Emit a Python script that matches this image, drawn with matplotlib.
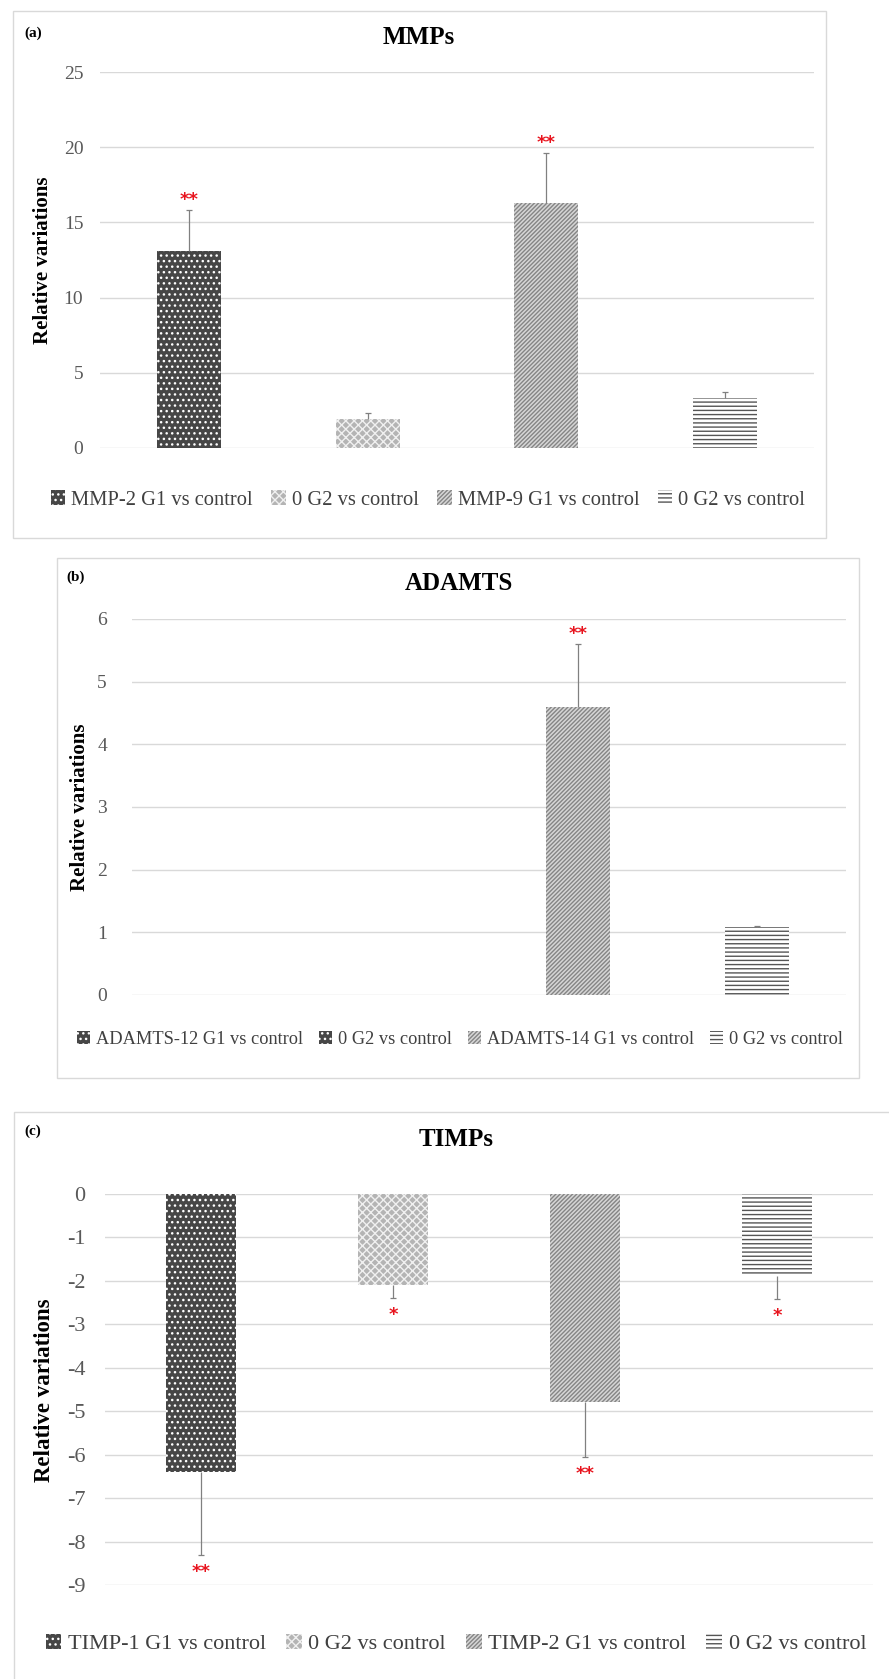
import matplotlib
matplotlib.use("Agg")
import matplotlib.pyplot as plt
from matplotlib.patches import Rectangle

plt.rcParams['font.family'] = ['Liberation Serif', 'DejaVu Serif']
plt.rcParams['hatch.linewidth'] = 1.0
plt.rcParams['axes.unicode_minus'] = False

W, H = 889, 1679

# data
mmp_labels = ['MMP-2 G1 vs control', '0 G2 vs control', 'MMP-9 G1 vs control', '0 G2 vs control']
mmp_values = [13.1, 1.95, 16.3, 3.3]
mmp_err = [2.7, 0.35, 3.3, 0.4]
mmp_stars = ['**', '', '**', '']

adamts_labels = ['ADAMTS-12 G1 vs control', '0 G2 vs control', 'ADAMTS-14 G1 vs control', '0 G2 vs control']
adamts_values = [0, 0, 4.6, 1.08]
adamts_err = [0, 0, 1.0, 0.02]
adamts_stars = ['', '', '**', '']

timp_labels = ['TIMP-1 G1 vs control', '0 G2 vs control', 'TIMP-2 G1 vs control', '0 G2 vs control']
timp_values = [-6.4, -2.09, -4.79, -1.88]
timp_err = [1.9, 0.3, 1.26, 0.54]
timp_stars = ['**', '*', '**', '*']

# (facecolor, hatch colour, hatch)
styles = [
    ('#464646', '#ffffff', '...'),
    ('#b4b4b4', '#f0f0f0', 'xxxx'),
    ('#d6d6d6', '#858585', '////////'),
    ('#ffffff', '#555555', '----'),
]
styles_b = [styles[0], styles[0], styles[2], styles[3]]

fig = plt.figure(figsize=(W / 100, H / 100), dpi=100)


def px_rect(x0, y0, x1, y1):
    return [x0 / W, 1 - y1 / H, (x1 - x0) / W, (y1 - y0) / H]


def border(x0, y0, x1, y1):
    fig.patches.append(Rectangle((x0 / W, 1 - y1 / H), (x1 - x0) / W, (y1 - y0) / H,
                                 transform=fig.transFigure, fill=False,
                                 edgecolor='#d9d9d9', linewidth=1.0))


def panel(box, axrect, ylim, yticks, labels, values, err, stars, sty,
          title, tag, tag_xy, title_xy, ylab_xy, leg_xy, tick_fs, leg_fs, ylab_fs, pad):
    border(*box)
    ax = fig.add_axes(px_rect(*axrect))
    x = list(range(len(values)))
    handles = []
    for i, v in enumerate(values):
        fc, hc, ht = sty[i]
        b = ax.bar(x[i], v, width=0.36, color=fc, edgecolor=hc, hatch=ht,
                   linewidth=0, label=labels[i], zorder=2)
        handles.append(b)
    for i, v in enumerate(values):
        if err[i] == 0:
            continue
        end = v + err[i] if v >= 0 else v - err[i]
        ax.vlines(x[i], v, end, color='#808080', linewidth=0.9, zorder=3)
        ax.plot(x[i], end, marker='_', color='#808080', ms=5, mew=0.9, zorder=3)
        if stars[i]:
            off = 1 if v >= 0 else -6
            ax.annotate(stars[i], (x[i], end), xytext=(0, off), textcoords='offset points',
                        ha='center', va='bottom' if v >= 0 else 'top',
                        color='#e8141e', fontsize=13, fontweight='bold',
                        family=['DejaVu Sans'])
    ax.set_xlim(-0.5, len(values) - 0.5)
    ax.set_ylim(*ylim)
    ax.set_yticks(yticks)
    ax.set_xticks([])
    ax.yaxis.grid(True, color='#d9d9d9', linewidth=1.0, zorder=0)
    ax.set_axisbelow(True)
    for s in ax.spines.values():
        s.set_visible(False)
    ax.tick_params(axis='y', length=0, pad=pad, labelsize=tick_fs, labelcolor='#595959')
    fig.text(tag_xy[0] / W, 1 - tag_xy[1] / H, tag, fontsize=11, fontweight='bold',
             ha='left', va='center')
    fig.text(title_xy[0] / W, 1 - title_xy[1] / H, title, fontsize=18, fontweight='bold',
             ha='center', va='center')
    fig.text(ylab_xy[0] / W, 1 - ylab_xy[1] / H, 'Relative variations', fontsize=ylab_fs,
             fontweight='bold', rotation=90, ha='center', va='center')
    fig.legend(handles=handles, labels=labels, loc='center',
               bbox_to_anchor=(leg_xy[0] / W, 1 - leg_xy[1] / H), ncol=4, frameon=False,
               fontsize=leg_fs, handlelength=0.7, handleheight=0.7, handletextpad=0.3,
               columnspacing=0.9, labelcolor='#404040')
    return ax


panel((13, 11, 826, 538), (100, 72, 814, 448), (0, 25), [0, 5, 10, 15, 20, 25],
      mmp_labels, mmp_values, mmp_err, mmp_stars, styles,
      'MMPs', '(a)', (24, 33), (419, 38), (43, 260), (428, 500), 14, 14.8, 15, 12)

panel((57, 558, 859, 1078), (132, 619, 846, 995), (0, 6), [0, 1, 2, 3, 4, 5, 6],
      adamts_labels, adamts_values, adamts_err, adamts_stars, styles_b,
      'ADAMTS', '(b)', (66, 577), (459, 584), (80, 807), (460, 1039), 14, 13.2, 15, 18)

panel((14, 1112, 900, 1700), (105, 1194, 873, 1585), (-9, 0), list(range(-9, 1)),
      timp_labels, timp_values, timp_err, timp_stars, styles,
      'TIMPs', '(c)', (24, 1131), (456, 1140), (45, 1390), (456, 1644), 16, 16, 16.5, 14)

fig.savefig('out.png', dpi=100)
